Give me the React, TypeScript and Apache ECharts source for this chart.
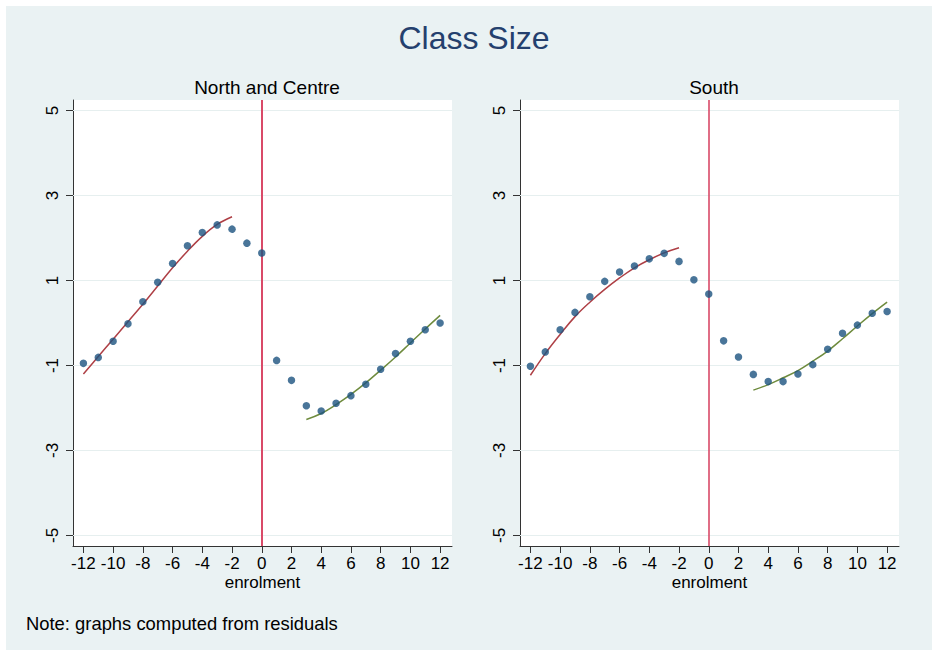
import React, { useEffect, useRef } from "react";
import * as echarts from "echarts";

const xValues = [-12, -11, -10, -9, -8, -7, -6, -5, -4, -3, -2, -1, 0, 1, 2, 3, 4, 5, 6, 7, 8, 9, 10, 11, 12];
const northPoints = [-0.95, -0.81, -0.43, -0.02, 0.5, 0.96, 1.4, 1.82, 2.13, 2.31, 2.21, 1.88, 1.65, -0.88, -1.35, -1.95, -2.07, -1.89, -1.71, -1.44, -1.09, -0.72, -0.43, -0.16, 0.0];
const southPoints = [-1.02, -0.68, -0.16, 0.25, 0.62, 0.98, 1.2, 1.34, 1.51, 1.64, 1.45, 1.02, 0.68, -0.42, -0.8, -1.21, -1.38, -1.38, -1.2, -0.98, -0.62, -0.24, -0.05, 0.23, 0.27];

const leftFitX = [-12, -11, -10, -9, -8, -7, -6, -5, -4, -3, -2];
const rightFitX = [3, 4, 5, 6, 7, 8, 9, 10, 11, 12];
const northLeftFit = [-1.2, -0.79, -0.38, 0.03, 0.44, 0.87, 1.3, 1.69, 2.04, 2.32, 2.5];
const northRightFit = [-2.27, -2.13, -1.92, -1.68, -1.41, -1.11, -0.8, -0.47, -0.14, 0.18];
const southLeftFit = [-1.23, -0.72, -0.27, 0.15, 0.49, 0.79, 1.06, 1.3, 1.49, 1.65, 1.77];
const southRightFit = [-1.58, -1.45, -1.29, -1.12, -0.9, -0.66, -0.37, -0.07, 0.22, 0.49];

const xTicks = [-12, -10, -8, -6, -4, -2, 0, 2, 4, 6, 8, 10, 12];
const yTicks = [-5, -3, -1, 1, 3, 5];

const panelTitles = ["North and Centre", "South"];
const mainTitle = "Class Size";
const xName = "enrolment";
const note = "Note: graphs computed from residuals";

const FONT = "'Liberation Sans', Arial, Helvetica, sans-serif";
const BG = "#EAF2F3";
const POINT = "#1C527F";
const RED_FIT = "#AE3F45";
const GREEN_FIT = "#6E8B3D";
const VLINE = "#D94A68";

export default function App() {
  const ref = useRef<HTMLDivElement>(null);
  useEffect(() => {
    if (!ref.current) return;
    const chart = echarts.init(ref.current, null, { renderer: "svg" });
    const grids = [
      { left: 73, top: 100, width: 379, height: 446 },
      { left: 520, top: 100, width: 379, height: 446 },
    ];
    const pair = (xs: number[], ys: number[]) => xs.map((x, i) => [x, ys[i]]);
    const panels = [
      { pts: northPoints, lf: northLeftFit, rf: northRightFit, vw: 2 },
      { pts: southPoints, lf: southLeftFit, rf: southRightFit, vw: 1.6 },
    ];
    const series: any[] = [];
    panels.forEach((p, i) => {
      series.push({
        type: "line",
        xAxisIndex: i,
        yAxisIndex: i,
        data: [],
        silent: true,
        z: 1,
        markLine: {
          silent: true,
          z: 1,
          symbol: "none",
          label: { show: false },
          lineStyle: { color: "#E6EFEF", width: 1, type: "solid" },
          data: yTicks.map((v) => ({ yAxis: v })),
        },
      });
      series.push({
        type: "line",
        xAxisIndex: i,
        yAxisIndex: i,
        data: [],
        silent: true,
        z: 2,
        markLine: {
          silent: true,
          z: 2,
          symbol: "none",
          label: { show: false },
          lineStyle: { color: VLINE, width: p.vw, type: "solid" },
          data: [{ xAxis: 0 }],
        },
      });
      series.push({
        type: "line",
        xAxisIndex: i,
        yAxisIndex: i,
        data: pair(leftFitX, p.lf),
        smooth: 0.4,
        showSymbol: false,
        lineStyle: { color: RED_FIT, width: 1.5 },
        z: 8,
      });
      series.push({
        type: "line",
        xAxisIndex: i,
        yAxisIndex: i,
        data: pair(rightFitX, p.rf),
        smooth: 0.4,
        showSymbol: false,
        lineStyle: { color: GREEN_FIT, width: 1.5 },
        z: 8,
      });
      series.push({
        type: "scatter",
        xAxisIndex: i,
        yAxisIndex: i,
        data: pair(xValues, p.pts),
        symbol: "circle",
        symbolSize: 7.5,
        itemStyle: { color: POINT },
        z: 10,
      });
    });

    chart.setOption({
      animation: false,
      backgroundColor: BG,
      textStyle: { fontFamily: FONT },
      title: [
        {
          text: mainTitle,
          left: 469,
          top: 17,
          textAlign: "center",
          textStyle: { fontSize: 32, fontWeight: "normal", color: "#24406E", fontFamily: FONT },
        },
        ...panelTitles.map((t, i) => ({
          text: t,
          left: i === 0 ? 262 : 709,
          top: 73,
          textAlign: "center",
          textStyle: { fontSize: 19, fontWeight: "normal", color: "#000", fontFamily: FONT },
        })),
      ],
      grid: grids.map((g) => ({ ...g, show: true, backgroundColor: "#fff", borderWidth: 0, containLabel: false })),
      xAxis: grids.map((_, i) => ({
        type: "value",
        gridIndex: i,
        min: -12.7,
        max: 12.8,
        name: xName,
        nameLocation: "middle",
        nameGap: 28,
        nameMoveOverlap: false,
        nameTextStyle: { fontSize: 17, color: "#000", fontFamily: FONT },
        axisLine: { show: true, onZero: false, lineStyle: { color: "#333", width: 1 } },
        axisTick: { show: true, length: 7, lineStyle: { color: "#333" }, customValues: xTicks },
        axisLabel: { fontSize: 17, color: "#000", margin: 9, customValues: xTicks, fontFamily: FONT },
        splitLine: { show: false },
      })),
      yAxis: grids.map((_, i) => ({
        type: "value",
        gridIndex: i,
        min: -5.25,
        max: 5.25,
        axisLine: { show: true, onZero: false, lineStyle: { color: "#333", width: 1 } },
        axisTick: { show: true, length: 7, lineStyle: { color: "#333" }, customValues: yTicks },
        axisLabel: { fontSize: 17, color: "#000", margin: 12, rotate: 90, customValues: yTicks, fontFamily: FONT },
        splitLine: { show: false },
      })),
      graphic: [
        { type: "rect", shape: { x: 0, y: 0, width: 932, height: 6 }, style: { fill: "#fff" }, silent: true },
        { type: "rect", shape: { x: 0, y: 0, width: 6, height: 650 }, style: { fill: "#fff" }, silent: true },
        {
          type: "text",
          x: 26,
          y: 623,
          style: { text: note, fontSize: 18.4, fill: "#000", fontFamily: FONT, textVerticalAlign: "middle" },
          silent: true,
        },
      ],
      series,
    });
    return () => chart.dispose();
  }, []);
  return <div ref={ref} style={{ position: "absolute", left: 0, top: 0, width: 932, height: 650 }} />;
}
